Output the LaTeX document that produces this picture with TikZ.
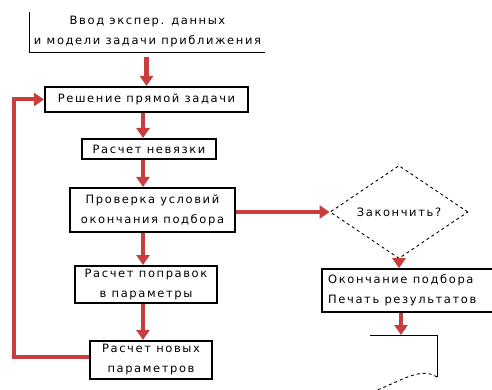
\documentclass[tikz,border=0pt]{standalone}
\usepackage{fontspec}
\newfontfamily\diafont[LetterSpace=14]{DejaVu Sans}
\usetikzlibrary{arrows.meta,shapes.geometric}
\definecolor{flowred}{RGB}{200,62,62}
\tikzset{
  diatext/.style={font=\diafont\fontsize{11.5}{20}\selectfont},
  procbox/.style={draw=black, line width=2pt, inner sep=0pt, align=center, diatext},
  flowarrow/.style={draw=flowred, line width=4.5pt, -{Triangle[width=13pt,length=10pt]}},
  thinline/.style={draw=black, line width=1pt},
  decision/.style={diamond, draw=black, dashed, line width=0.9pt, inner sep=0pt, diatext}
}
\begin{document}
\begin{tikzpicture}[x=1pt,y=-1pt]
\useasboundingbox (0,0) rectangle (492,390);
% top input block (open box)
\node[inner sep=0pt, minimum width=235pt, minimum height=40pt, align=center, diatext] (inp) at (147.5,32) {Ввод экспер. данных\\и модели задачи приближения};
\draw[thinline] (inp.north west) -- (inp.south west) -- (inp.south east);
% process boxes
\node[procbox, minimum width=203pt, minimum height=25pt] (solve) at (146.5,99.5) {Решение прямой задачи};
\node[procbox, minimum width=134pt, minimum height=20pt] (resid) at (149,149) {Расчет невязки};
\node[procbox, minimum width=165pt, minimum height=44pt] (check) at (152.5,210) {Проверка условий\\окончания подбора};
\node[procbox, minimum width=142pt, minimum height=37pt] (corr) at (146,284.5) {Расчет поправок\\в параметры};
\node[procbox, minimum width=122pt, minimum height=38pt] (newp) at (151,360) {Расчет новых\\параметров};
% decision
\node[decision, minimum width=138pt, minimum height=67pt] (dec) at (399,212) {Закончить?};
% end box (cropped at right)
\node[draw=black, line width=1.6pt, inner sep=0pt, minimum width=178pt, minimum height=43pt] (endb) at (411,290.5) {};
\node[anchor=west, inner sep=0pt, align=left, diatext] (endt) at (328,290.5) {Окончание подбора\\Печать результатов};
% output document (cropped at bottom)
\coordinate (doctop) at (402,335);
\coordinate (docl) at (370,335);
\coordinate (docr) at (437,335);
\coordinate (docrb) at (437,377);
\coordinate (docw) at (372,392);
\draw[thinline] (docl) -- (docr) -- (docrb);
\draw[black, line width=0.9pt, dashed] (docrb) .. controls (420,366) and (400,382) .. (docw);
% arrows
\draw[flowarrow] ([yshift=-5pt]inp.south -| solve.north) -- (solve.north);
\draw[flowarrow] ([xshift=-3.5pt]solve.south) -- ([xshift=-3.5pt]solve.south |- resid.north);
\draw[flowarrow] ([xshift=-3.5pt]solve.south |- resid.south) -- ([xshift=-3.5pt]solve.south |- check.north);
\draw[flowarrow] ([xshift=-3.5pt]solve.south |- check.south) -- ([xshift=-3.5pt]solve.south |- corr.north);
\draw[flowarrow] ([xshift=-3.5pt]solve.south |- corr.south) -- ([xshift=-3.5pt]solve.south |- newp.north);
\draw[flowarrow] ([yshift=-2pt]check.east) -- (dec.west);
\draw[flowarrow] (dec.south) -- (dec.south |- endb.north);
\draw[flowarrow] ([xshift=2pt]dec.south |- endb.south) -- ([xshift=2pt]dec.south |- doctop);
\draw[flowarrow, line width=4pt] ([yshift=3pt]newp.west) -- ++(-75pt,0) |- (solve.west);
\end{tikzpicture}
\end{document}
